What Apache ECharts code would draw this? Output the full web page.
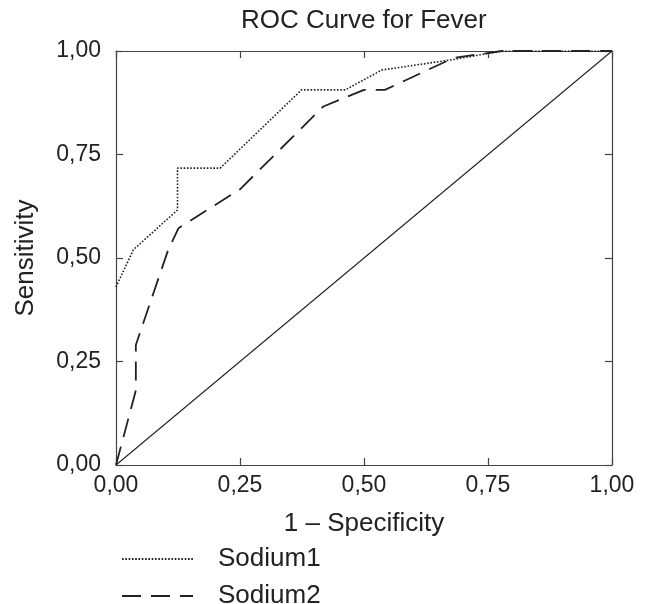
<!DOCTYPE html>
<html>
<head>
<meta charset="utf-8">
<script src="https://cdn.jsdelivr.net/npm/echarts@6/dist/echarts.min.js"></script>
<style>html,body{margin:0;padding:0;background:#fff}#c{width:645px;height:604px}</style>
</head>
<body>
<div id="c"></div>
<script>
var titleText = 'ROC Curve for Fever';
var xName = '1 \u2013 Specificity';
var yName = 'Sensitivity';
var tickValues = [0, 0.25, 0.5, 0.75, 1];
var seriesNames = ['Sodium1', 'Sodium2'];
var sodium1 = [[0,0.43],[0.035,0.52],[0.124,0.616],[0.124,0.717],[0.21,0.717],[0.374,0.906],[0.462,0.906],[0.536,0.954],[0.683,0.98],[0.778,1.0],[1,1]];
var sodium2 = [[0,0],[0.04,0.18],[0.04,0.29],[0.105,0.519],[0.126,0.572],[0.25,0.666],[0.418,0.866],[0.5,0.906],[0.542,0.906],[0.68,0.983],[0.778,1.0],[1,1]];
var reference = [[0,0],[1,1]];

var FONT = '"Liberation Sans", Arial, Helvetica, sans-serif';
var TXT = '#222';
var AX = '#444';
function fmt(v){ return v.toFixed(2).replace('.', ','); }

var chart = echarts.init(document.getElementById('c'));
function axisBase(pos, isX, showLabel){
  return {
    type: 'value', min: 0, max: 1, interval: 0.25, position: pos,
    axisLine: {show: true, onZero: false, lineStyle: {color: AX, width: 1.2}},
    axisTick: {show: true, inside: true, length: 7, lineStyle: {color: AX, width: 1.2}},
    splitLine: {show: false},
    axisLabel: {show: showLabel, formatter: fmt, fontFamily: FONT, fontSize: 23, color: TXT, margin: isX ? 9 : 15}
  };
}
var xBottom = axisBase('bottom', true, true);
xBottom.name = xName; xBottom.nameLocation = 'middle'; xBottom.nameGap = 46;
xBottom.nameTextStyle = {fontFamily: FONT, fontSize: 26, color: TXT};
var xTop = axisBase('top', true, false);
var yLeft = axisBase('left', false, true);
yLeft.name = yName; yLeft.nameLocation = 'middle'; yLeft.nameGap = 77;
yLeft.nameTextStyle = {fontFamily: FONT, fontSize: 26, color: TXT};
var yRight = axisBase('right', false, false);

chart.setOption({
  animation: false,
  backgroundColor: '#fff',
  title: {text: titleText, left: 241, top: 8, padding: 0,
    textStyle: {fontFamily: FONT, fontSize: 26, fontWeight: 'normal', color: TXT}},
  grid: {left: 116, right: 33, top: 51, bottom: 139, containLabel: false},
  xAxis: [xBottom, xTop],
  yAxis: [yLeft, yRight],
  legend: {
    data: seriesNames, orient: 'vertical', left: 121, top: 546, height: 80, padding: 0,
    itemWidth: 71, itemHeight: 14, itemGap: 11,
    itemStyle: {opacity: 0},
    textStyle: {fontFamily: FONT, fontSize: 26, color: TXT, padding: [0,0,0,20]}
  },
  series: [
    {name: seriesNames[0], type: 'line', data: sodium1, showSymbol: false, symbol: 'none',
      lineStyle: {color: '#222', width: 1.6, type: [1.6, 1.7]}, itemStyle: {color: '#222'}},
    {name: seriesNames[1], type: 'line', data: sodium2, showSymbol: false, symbol: 'none',
      lineStyle: {color: '#222', width: 1.8, type: [19, 10]}, itemStyle: {color: '#222'}},
    {name: 'ref', type: 'line', data: reference, showSymbol: false, symbol: 'none', silent: true,
      lineStyle: {color: '#222', width: 1.1, type: 'solid'}}
  ]
});
</script>
</body>
</html>
